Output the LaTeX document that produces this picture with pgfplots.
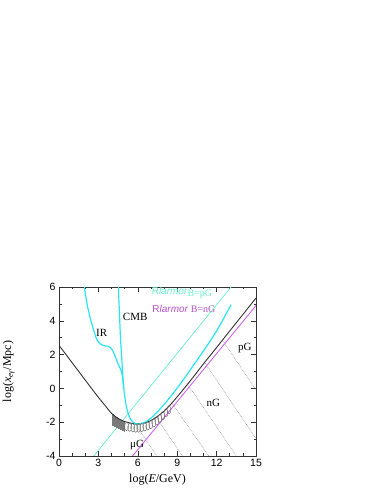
\documentclass[border=0pt]{standalone}
\usepackage{fontspec}
\setmainfont{Liberation Serif}
\setsansfont{Liberation Sans}
\usepackage{pgfplots}
\pgfplotsset{compat=1.18}
\definecolor{aqua}{RGB}{100,240,200}
\definecolor{cyanc}{RGB}{40,230,240}
\definecolor{violetc}{RGB}{205,100,235}
\definecolor{violett}{RGB}{180,80,200}
\definecolor{darkc}{RGB}{50,50,50}
\definecolor{dotc}{RGB}{140,140,140}
\begin{document}
\begin{tikzpicture}[x=1pt,y=1pt]
\useasboundingbox (0,0) rectangle (382,494);
\begin{axis}[
  scale only axis,
  width=197pt, height=169pt,
  at={(59pt,38pt)}, anchor=south west,
  xmin=0, xmax=15, ymin=-4, ymax=6,
  xtick={0,3,...,15}, ytick={-4,-2,...,6},
  minor x tick num=2, minor y tick num=1,
  tick align=inside,
  major tick length=5pt, minor tick length=2.5pt,
  every tick/.style={darkc, line width=0.5pt},
  axis line style={darkc, line width=0.7pt},
  /pgf/number format/assume math mode=true,
  ticklabel style={font=\sffamily\fontsize{10.5}{12}\selectfont},
  xlabel={log(\textit{E}/GeV)},
  ylabel={log(\textit{x}\textsubscript{\textit{e}γ}/Mpc)},
  label style={font=\fontsize{12}{14}\selectfont},
  xlabel style={at={(axis description cs:0.5,-0.142)}, anchor=center},
  ylabel style={at={(axis description cs:-0.255,0.5)}, anchor=center},
  clip=true,
]
% dotted diagonals
\addplot[dotc, densely dotted, line width=0.6pt] coordinates {(5.8,-2.1) (7.45,-4)};
\addplot[dotc, densely dotted, line width=0.6pt] coordinates {(7.4,-1.7) (9.4,-4)};
\addplot[dotc, densely dotted, line width=0.6pt] coordinates {(8.58,-0.85) (11.4,-4)};
\addplot[dotc, densely dotted, line width=0.6pt] coordinates {(9.75,0.3) (13.5,-4)};
\addplot[dotc, densely dotted, line width=0.6pt] coordinates {(11.06,1.57) (15,-2.97)};
\addplot[dotc, densely dotted, line width=0.6pt] coordinates {(12.42,2.88) (15,-0.09)};
% aquamarine Rlarmor pG
\addplot[aqua, line width=0.7pt] coordinates {(2.65,-4) (13.1,6)};
% violet Rlarmor nG
\addplot[violetc, line width=0.9pt] coordinates {(5.6,-4) (15,4.9)};
% hatch (vertical strokes)
\addplot[draw=none, mark=none, error bars/.cd, y dir=minus, y explicit,
  error mark=none, error bar style={color=darkc!65, line width=0.35pt}]
 coordinates {
 (4.05,-1.51) -= (0,0.69)
 (4.10,-1.54) -= (0,0.68)
 (4.15,-1.57) -= (0,0.67)
 (4.20,-1.60) -= (0,0.66)
 (4.25,-1.63) -= (0,0.65)
 (4.30,-1.66) -= (0,0.64)
 (4.35,-1.69) -= (0,0.63)
 (4.40,-1.72) -= (0,0.62)
 (4.45,-1.75) -= (0,0.61)
 (4.50,-1.78) -= (0,0.60)
 (4.55,-1.80) -= (0,0.60)
 (4.60,-1.82) -= (0,0.60)
 (4.65,-1.85) -= (0,0.59)
 (4.70,-1.87) -= (0,0.59)
 (4.75,-1.89) -= (0,0.59)
 (4.80,-1.91) -= (0,0.59)
 (4.85,-1.92) -= (0,0.60)
 (4.90,-1.94) -= (0,0.60)
 (4.95,-1.95) -= (0,0.61)
 (5.00,-1.96) -= (0,0.62)
 };
% loops
\addplot[only marks, mark=o, mark size=2pt, mark options={yscale=2.1, draw=darkc!75, line width=0.4pt}]
 coordinates {
 (5.15,-2.25) (5.38,-2.30) (5.61,-2.33) (5.84,-2.35) (6.07,-2.35)
 (6.30,-2.32) (6.53,-2.28) (6.76,-2.22) (6.99,-2.14) (7.22,-2.04)
 (7.45,-1.92) (7.68,-1.78) (7.91,-1.62) (8.14,-1.45) (8.37,-1.27)
 };
% black curve
\addplot[darkc, line width=0.9pt, smooth] coordinates {
 (0,2.55) (1,1.52) (2,0.49) (3,-0.53) (3.5,-1.0) (4,-1.48) (4.5,-1.78)
 (5,-1.96) (5.5,-2.06) (6,-2.1) (6.5,-2.05) (7,-1.9) (7.5,-1.65)
 (8,-1.35) (8.5,-0.95) (9,-0.5) (9.5,-0.03) (10,0.45) (11,1.45)
 (12,2.42) (13,3.4) (14,4.37) (15,5.35)
};
% IR curve
\addplot[cyanc, line width=1.2pt, smooth] coordinates {
 (1.93,6.0) (2.05,5.4) (2.2,4.75) (2.4,4.1) (2.6,3.55) (2.8,3.05)
 (3.0,2.75) (3.2,2.6) (3.45,2.52) (3.7,2.5) (3.9,2.42) (4.05,2.28)
 (4.2,2.05) (4.35,1.75) (4.5,1.45) (4.62,1.25) (4.75,1.02)
 (4.83,0.7) (4.89,0.3) (4.93,0.0)
};
% CMB curve and right branch
\addplot[cyanc, line width=1.2pt, smooth] coordinates {
 (4.52,6.0) (4.6,4.5) (4.68,3.0) (4.76,2.0) (4.84,1.0) (4.9,0.3)
 (4.96,-0.2) (5.03,-0.6) (5.1,-0.95) (5.2,-1.3) (5.32,-1.6)
 (5.45,-1.82) (5.6,-1.98) (5.8,-2.08) (6.0,-2.12) (6.4,-2.05)
 (6.8,-1.88) (7.2,-1.62) (7.6,-1.3) (8.0,-0.95) (8.5,-0.48)
 (9.0,0.02) (9.5,0.55) (10,1.1) (11,2.22) (12,3.4) (13.1,4.95)
};
% labels
\node[font=\fontsize{11}{13}\selectfont] at (axis cs:3.25,3.3) {IR};
\node[font=\fontsize{11}{13}\selectfont] at (axis cs:5.8,4.25) {CMB};
\node[font=\fontsize{11}{13}\selectfont] at (axis cs:14.15,2.4) {pG};
\node[font=\fontsize{11}{13}\selectfont] at (axis cs:11.75,-0.88) {nG};
\node[font=\fontsize{11}{13}\selectfont] at (axis cs:5.95,-3.35) {μG};
\node[anchor=west, aqua, inner sep=0pt, font=\fontsize{10}{12}\selectfont] at (axis cs:7.05,5.64)
  {{\sffamily R\textit{larmor}}\raisebox{-1.5pt}{B=pG}};
\node[anchor=west, violett, inner sep=0pt, font=\fontsize{10}{12}\selectfont] at (axis cs:7.1,4.73)
  {{\sffamily R\textit{larmor}} B=nG};
\end{axis}
\end{tikzpicture}
\end{document}
